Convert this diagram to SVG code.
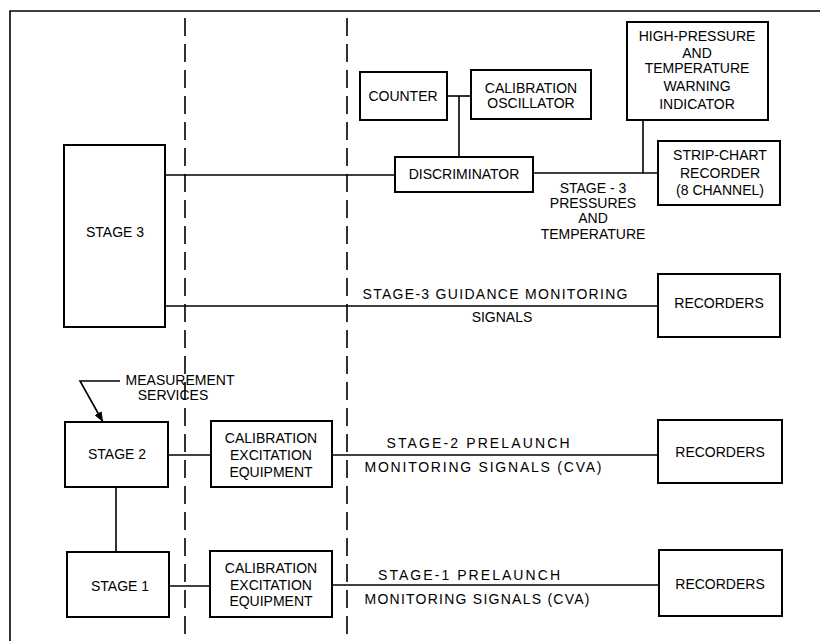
<svg xmlns="http://www.w3.org/2000/svg" width="820" height="641" viewBox="0 0 820 641">
<style>
.box{fill:#fff;stroke:#000;stroke-width:2}
.ln{fill:none;stroke:#000;stroke-width:1.6}
.dash{fill:none;stroke:#000;stroke-width:1.6;stroke-dasharray:18 8}
text{font-family:"Liberation Sans",Arial,sans-serif;font-size:14px;fill:#000;text-anchor:middle}
</style>
<defs>
<marker id="arr" viewBox="0 0 10 8" refX="10" refY="4" markerWidth="10" markerHeight="8" markerUnits="userSpaceOnUse" orient="auto">
<path d="M0,0 L10,4 L0,8 Z" fill="#000"/>
</marker>
</defs>
<rect width="820" height="641" fill="#fff"/>
<g id="frame">
<path class="ln" d="M10,641 V11 H820" stroke-width="2"/>
<path class="dash" d="M185,18 V641"/>
<path class="dash" d="M347,18 V641"/>
</g>
<g id="connectors">
<path class="ln" d="M165,175 H395"/>
<path class="ln" d="M447,96 H471"/>
<path class="ln" d="M459,96 V157"/>
<path class="ln" d="M533,173 H658"/>
<path class="ln" d="M643,120 V173"/>
<path class="ln" d="M165,306 H658"/>
<path class="ln" d="M120,381 H80 L103,422" marker-end="url(#arr)"/>
<path class="ln" d="M168,455 H211"/>
<path class="ln" d="M332,455 H658"/>
<path class="ln" d="M116,487 V552"/>
<path class="ln" d="M169,586 H210"/>
<path class="ln" d="M332,585 H659"/>
</g>
<g id="labels">
<text x="593" y="193">STAGE - 3</text>
<text x="593" y="208">PRESSURES</text>
<text x="593" y="223">AND</text>
<text x="593" y="239">TEMPERATURE</text>
<text x="495" y="299" textLength="265" lengthAdjust="spacing">STAGE-3 GUIDANCE MONITORING</text>
<text x="502" y="322">SIGNALS</text>
<text x="180" y="385">MEASUREMENT</text>
<text x="173" y="400">SERVICES</text>
<text x="478" y="448" textLength="183" lengthAdjust="spacing">STAGE-2 PRELAUNCH</text>
<text x="483" y="472" textLength="237" lengthAdjust="spacing">MONITORING SIGNALS (CVA)</text>
<text x="469" y="580" textLength="182" lengthAdjust="spacing">STAGE-1 PRELAUNCH</text>
<text x="477" y="604" textLength="225" lengthAdjust="spacing">MONITORING SIGNALS (CVA)</text>
</g>
<g id="stage3">
<rect class="box" x="64" y="145" width="101" height="182"/>
<text x="115" y="237">STAGE 3</text>
</g>
<g id="counter">
<rect class="box" x="360" y="72" width="87" height="48"/>
<text x="403" y="101">COUNTER</text>
</g>
<g id="calosc">
<rect class="box" x="471" y="70" width="120" height="49"/>
<text x="531" y="93">CALIBRATION</text>
<text x="531" y="108">OSCILLATOR</text>
</g>
<g id="discriminator">
<rect class="box" x="395" y="157" width="138" height="35"/>
<text x="464" y="179">DISCRIMINATOR</text>
</g>
<g id="warning">
<rect class="box" x="627" y="22" width="141" height="98"/>
<text x="697" y="41">HIGH-PRESSURE</text>
<text x="697" y="58">AND</text>
<text x="697" y="73">TEMPERATURE</text>
<text x="697" y="91">WARNING</text>
<text x="697" y="109">INDICATOR</text>
</g>
<g id="stripchart">
<rect class="box" x="658" y="141" width="122" height="64"/>
<text x="720" y="160">STRIP-CHART</text>
<text x="720" y="178">RECORDER</text>
<text x="720" y="195">(8 CHANNEL)</text>
</g>
<g id="recorders1">
<rect class="box" x="658" y="274" width="122" height="63"/>
<text x="719" y="308">RECORDERS</text>
</g>
<g id="stage2">
<rect class="box" x="65" y="422" width="103" height="65"/>
<text x="117" y="459">STAGE 2</text>
</g>
<g id="calexc2">
<rect class="box" x="211" y="421" width="121" height="66"/>
<text x="271" y="443">CALIBRATION</text>
<text x="271" y="460">EXCITATION</text>
<text x="271" y="477">EQUIPMENT</text>
</g>
<g id="recorders2">
<rect class="box" x="658" y="420" width="124" height="63"/>
<text x="720" y="457">RECORDERS</text>
</g>
<g id="stage1">
<rect class="box" x="67" y="552" width="102" height="65"/>
<text x="120" y="591">STAGE 1</text>
</g>
<g id="calexc1">
<rect class="box" x="210" y="551" width="122" height="66"/>
<text x="271" y="573">CALIBRATION</text>
<text x="271" y="590">EXCITATION</text>
<text x="271" y="606">EQUIPMENT</text>
</g>
<g id="recorders3">
<rect class="box" x="659" y="550" width="123" height="66"/>
<text x="720" y="589">RECORDERS</text>
</g>
</svg>
